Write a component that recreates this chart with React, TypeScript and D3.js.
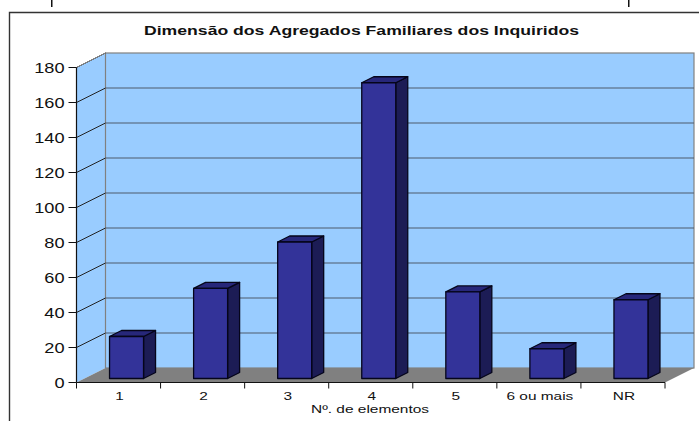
import React from "react";
import * as d3 from "d3";

const titleText = "Dimensão dos Agregados Familiares dos Inquiridos";
const xAxisTitle = "Nº. de elementos";
const categories = ["1", "2", "3", "4", "5", "6 ou mais", "NR"];
const counts = [24, 51.5, 78, 169, 49.5, 17, 45];
const yTicks = [0, 20, 40, 60, 80, 100, 120, 140, 160, 180];
const clippedTextStubs = [51, 628];

const W = 699, H = 421;
const x0 = 76.5, x1 = 665, yBottom = 382.5, yTop = 67.5;
const dx = 29, dy = -14.5;
const barW = 34, barDx = 12, barDy = -6;
const FONT = "'Liberation Sans', Arial, sans-serif";

const x = d3.scaleBand<string>().domain(categories).range([x0, x1]);
const y = d3.scaleLinear().domain([0, 180]).range([yBottom, yTop]);
const poly = (p: number[][]) => "M" + p.map((q) => q.join(",")).join("L") + "Z";

export default function App() {
  const bw = x.bandwidth();
  return (
    <svg width={W} height={H} viewBox={`0 0 ${W} ${H}`} style={{ position: "absolute", left: 0, top: 0, background: "#fff" }}>
      {clippedTextStubs.map((sx) => (
        <rect key={sx} x={sx} y={0} width={1.5} height={7} fill="#111" />
      ))}
      <path d={`M9.5,421V12.5H699`} fill="none" stroke="#333" strokeWidth={1.4} />
      <text x={361.5} y={35} fontFamily={FONT} fontWeight="bold" fontSize={12} textAnchor="middle" textLength={435} lengthAdjust="spacingAndGlyphs" fill="#111">{titleText}</text>

      {/* walls */}
      <path d={poly([[x0, yTop], [x0 + dx, yTop + dy], [x0 + dx, yBottom + dy], [x0, yBottom]])} fill="#99CCFF" />
      <rect x={x0 + dx} y={yTop + dy} width={x1 - x0} height={yBottom - yTop} fill="#99CCFF" stroke="#808080" strokeWidth={1.2} />
      <path d={poly([[x0, yBottom], [x0 + dx, yBottom + dy], [x1 + dx, yBottom + dy], [x1, yBottom]])} fill="#808080" />

      {/* gridlines */}
      {yTicks.slice(1).map((t) => (
        <g key={t}>
          <line x1={x0} y1={y(t)} x2={x0 + dx} y2={y(t) + dy} stroke="#222" strokeWidth={1} />
          {t < 180 && <line x1={x0 + dx} y1={y(t) + dy} x2={x1 + dx} y2={y(t) + dy} stroke="#4f5b6c" strokeWidth={1.2} />}
        </g>
      ))}
      <line x1={x0} y1={yTop} x2={x0 + dx} y2={yTop + dy} stroke="#808080" strokeWidth={1} />

      {/* axes */}
      <line x1={x0} y1={yTop} x2={x0} y2={yBottom} stroke="#111" strokeWidth={1.2} />
      <line x1={x0} y1={yBottom} x2={x1} y2={yBottom} stroke="#111" strokeWidth={1.2} />
      {yTicks.map((t) => (
        <g key={t}>
          <line x1={x0 - 8} y1={y(t)} x2={x0} y2={y(t)} stroke="#111" strokeWidth={1} />
          <text transform={`translate(64.5,${y(t) + 5}) scale(1.3,1)`} fontFamily={FONT} fontSize={14} textAnchor="end" fill="#111">{t}</text>
        </g>
      ))}
      {[...categories.map((c) => x(c)!), x1].map((tx) => (
        <line key={tx} x1={tx} y1={yBottom} x2={tx} y2={yBottom + 6} stroke="#111" strokeWidth={1} />
      ))}
      {categories.map((c) => (
        <text key={c} transform={`translate(${x(c)! + bw / 2 + 1},400) scale(1.4,1)`} fontFamily={FONT} fontSize={11} textAnchor="middle" fill="#111">{c}</text>
      ))}
      <text x={370} y={413} fontFamily={FONT} fontSize={10.5} textAnchor="middle" textLength={118} lengthAdjust="spacingAndGlyphs" fill="#111">{xAxisTitle}</text>

      {/* bars */}
      {categories.map((c, i) => {
        const bx = x(c)! + (bw - barW) / 2 + 8;
        const by0 = yBottom - 4;
        const by1 = y(counts[i]) - 4;
        return (
          <g key={c} stroke="#05051a" strokeWidth={1.3} strokeLinejoin="round">
            <path d={poly([[bx + barW, by1], [bx + barW + barDx, by1 + barDy], [bx + barW + barDx, by0 + barDy], [bx + barW, by0]])} fill="#1C1C55" />
            <path d={poly([[bx, by1], [bx + barDx, by1 + barDy], [bx + barW + barDx, by1 + barDy], [bx + barW, by1]])} fill="#27277A" />
            <rect x={bx} y={by1} width={barW} height={by0 - by1} fill="#333399" />
          </g>
        );
      })}
    </svg>
  );
}
